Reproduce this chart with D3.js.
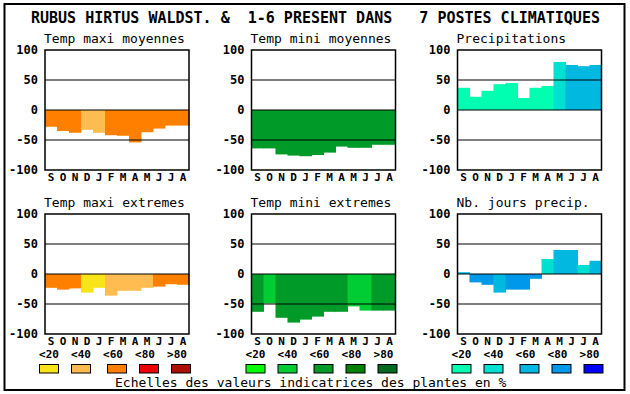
<!DOCTYPE html>
<html>
<head>
<meta charset="utf-8">
<script src="https://cdn.jsdelivr.net/npm/d3@7"></script>
<style>
  body { margin: 0; background: #fff; }
  text { font-family: "DejaVu Sans Mono", "Liberation Mono", monospace; }
</style>
</head>
<body>
<script>
const width = 630;
const height = 394;

// data
const months = ["S", "O", "N", "D", "J", "F", "M", "A", "M", "J", "J", "A"];
const yTicks = [100, 50, 0, -50, -100];

const maxiMoy = [-28, -35, -38, -33, -38, -42, -43, -54, -37, -31, -26, -26];
const maxiMoyCls = [2, 2, 2, 1, 1, 2, 2, 2, 2, 2, 2, 2];
const miniMoy = [-64, -64, -74, -76, -77, -75, -71, -61, -63, -63, -58, -58];
const miniMoyCls = [2, 2, 2, 2, 2, 2, 2, 2, 2, 2, 2, 2];
const precip = [37, 22, 32, 43, 45, 20, 37, 40, 80, 75, 73, 75];
const precipCls = [0, 0, 0, 0, 0, 0, 0, 0, 1, 2, 2, 2];
const maxiExt = [-23, -26, -24, -31, -23, -36, -28, -28, -23, -21, -17, -18];
const maxiExtCls = [2, 2, 2, 0, 0, 1, 1, 1, 1, 2, 2, 2];
const miniExt = [-63, -49, -73, -81, -76, -71, -63, -63, -54, -61, -61, -61];
const miniExtCls = [2, 1, 2, 2, 2, 2, 2, 2, 1, 1, 2, 2];
const nbJours = [3, -14, -18, -31, -26, -26, -8, 25, 40, 40, 15, 22];
const nbJoursCls = [2, 3, 3, 2, 3, 3, 3, 1, 2, 2, 1, 2];

const legendLabels = ["<20", "<40", "<60", "<80", ">80"];
const tempColors = ["#f8e418", "#ffbc50", "#ff8000", "#ee0000", "#aa1000"];
const greenColors = ["#00ff00", "#00cc33", "#009a28", "#008000", "#006820"];
const blueColors = ["#00ffb0", "#00e0d0", "#00b8e0", "#0098e8", "#0000ff"];

const panels = [
  { title: "Temp maxi moyennes", values: maxiMoy, cls: maxiMoyCls, colors: tempColors, col: 0, row: 0 },
  { title: "Temp mini moyennes", values: miniMoy, cls: miniMoyCls, colors: greenColors, col: 1, row: 0 },
  { title: "Precipitations", values: precip, cls: precipCls, colors: blueColors, col: 2, row: 0 },
  { title: "Temp maxi extremes", values: maxiExt, cls: maxiExtCls, colors: tempColors, col: 0, row: 1 },
  { title: "Temp mini extremes", values: miniExt, cls: miniExtCls, colors: greenColors, col: 1, row: 1 },
  { title: "Nb. jours precip.", values: nbJours, cls: nbJoursCls, colors: blueColors, col: 2, row: 1 }
];

const colX = [45, 251.5, 457.5];
const rowY = [50, 214];
const pw = 144;
const ph = 120;

var svg = d3
  .select("body")
  .append("svg")
  .attr("width", width)
  .attr("height", height);

svg.append("rect")
  .attr("x", 4.5).attr("y", 4)
  .attr("width", 620).attr("height", 386)
  .attr("fill", "none").attr("stroke", "#000").attr("stroke-width", 2);

svg.append("text")
  .attr("x", 31).attr("y", 23)
  .attr("font-size", 15).attr("font-weight", "bold")
  .attr("xml:space", "preserve")
  .style("white-space", "pre")
  .text("RUBUS HIRTUS WALDST. &  1-6 PRESENT DANS   7 POSTES CLIMATIQUES");

var x = d3.scaleBand().domain(d3.range(12)).range([0, pw]).padding(0);
var y = d3.scaleLinear().domain([-100, 100]).range([ph, 0]);

panels.forEach(function(p) {
  var g = svg.append("g")
    .attr("transform", "translate(" + colX[p.col] + "," + rowY[p.row] + ")");

  g.append("text")
    .attr("x", -1).attr("y", -7)
    .attr("font-size", 13)
    .text(p.title);

  g.selectAll("rect.bar")
    .data(p.values)
    .enter()
    .append("rect")
    .attr("class", "bar")
    .attr("x", (d, i) => x(i))
    .attr("width", x.bandwidth() + 0.5)
    .attr("y", d => y(Math.max(0, d)))
    .attr("height", d => Math.abs(y(d) - y(0)))
    .attr("fill", (d, i) => p.colors[p.cls[i]]);

  g.selectAll("line.grid")
    .data([50, 0, -50])
    .enter()
    .append("line")
    .attr("x1", 0).attr("x2", pw)
    .attr("y1", d => y(d)).attr("y2", d => y(d))
    .attr("stroke", "#000").attr("stroke-width", 1.2);

  g.append("rect")
    .attr("width", pw).attr("height", ph)
    .attr("fill", "none").attr("stroke", "#000").attr("stroke-width", 1.5);

  g.selectAll("text.ytick")
    .data(yTicks)
    .enter()
    .append("text")
    .attr("class", "ytick")
    .attr("x", -7)
    .attr("y", d => y(d) + 4)
    .attr("text-anchor", "end")
    .attr("font-size", 12).attr("font-weight", "bold")
    .text(d => d);

  g.selectAll("text.month")
    .data(months)
    .enter()
    .append("text")
    .attr("class", "month")
    .attr("x", (d, i) => x(i) + x.bandwidth() / 2)
    .attr("y", ph + 11)
    .attr("text-anchor", "middle")
    .attr("font-size", 11).attr("font-weight", "bold")
    .text(d => d);
});

// legend
const boxOff = [0, 32, 68, 100, 132];
[tempColors, greenColors, blueColors].forEach(function(cols, c) {
  var lg = svg.append("g")
    .attr("transform", "translate(" + (colX[c] - 6) + ",0)");
  lg.selectAll("text")
    .data(legendLabels)
    .enter()
    .append("text")
    .attr("x", (d, i) => i * 32 + 10)
    .attr("y", 358)
    .attr("text-anchor", "middle")
    .attr("font-size", 11).attr("font-weight", "bold")
    .text(d => d);
  lg.selectAll("rect")
    .data(cols)
    .enter()
    .append("rect")
    .attr("x", (d, i) => boxOff[i] + 0.5)
    .attr("y", 364.5)
    .attr("width", 19).attr("height", 8.5)
    .attr("fill", d => d)
    .attr("stroke", "#000").attr("stroke-width", 1);
});

svg.append("text")
  .attr("x", 115).attr("y", 387)
  .attr("font-size", 13)
  .text("Echelles des valeurs indicatrices des plantes en %");
</script>
</body>
</html>
